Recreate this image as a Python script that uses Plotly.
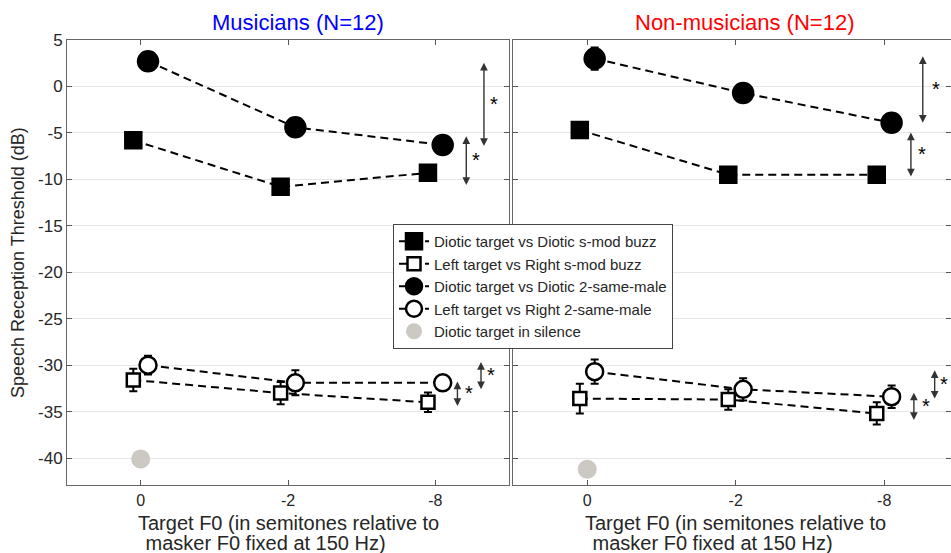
import plotly.graph_objects as go

# ---------------- data ----------------
categories = ["0", "-2", "-8"]
y_ticks = [5, 0, -5, -10, -15, -20, -25, -30, -35, -40]
y_ticklabels = ["5", "0", "-5", "-10", "-15", "-20", "-25", "-30", "-35", "-40"]

mus_diotic_buzz = [-5.8, -10.8, -9.3]
mus_diotic_buzz_err = [0.6, 0.6, 0.6]
mus_lr_buzz = [-31.6, -33.0, -34.0]
mus_lr_buzz_err = [1.2, 1.2, 1.05]
mus_diotic_male = [2.7, -4.4, -6.3]
mus_diotic_male_err = [0.8, 0.8, 0.8]
mus_lr_male = [-30.0, -31.9, -31.9]
mus_lr_male_err = [1.0, 1.35, 0.8]
mus_silence = [-40.1]

non_diotic_buzz = [-4.7, -9.5, -9.5]
non_diotic_buzz_err = [0.6, 0.6, 0.6]
non_lr_buzz = [-33.6, -33.7, -35.2]
non_lr_buzz_err = [1.6, 1.1, 1.2]
non_diotic_male = [3.0, -0.7, -3.9]
non_diotic_male_err = [1.2, 0.8, 0.8]
non_lr_male = [-30.7, -32.6, -33.4]
non_lr_male_err = [1.3, 1.2, 1.2]
non_silence = [-41.2]

# significance arrows: (start value, end value)
mus_sig_top = [[2.7, -6.4], [-5.2, -10.6]]
mus_sig_bottom = [[-31.6, -34.4], [-29.5, -32.6]]
non_sig_top = [[3.4, -3.9], [-4.8, -9.7]]
non_sig_bottom = [[-32.8, -35.9], [-30.4, -33.6]]

legend_names = [
    "Diotic target vs Diotic s-mod buzz",
    "Left target vs Right s-mod buzz",
    "Diotic target vs Diotic 2-same-male",
    "Left target vs Right 2-same-male",
    "Diotic target in silence",
]
panel_titles = ["Musicians (N=12)", "Non-musicians (N=12)"]
x_title_lines = ["Target F0 (in semitones relative to", " masker F0 fixed at 150 Hz)"]
y_title = "Speech Reception Threshold (dB)"

# ---------------- figure ----------------
fig = go.Figure()
base = [1, 2, 3]
off = 0.05
FONT = "Liberation Sans, Arial, sans-serif"
TXT = "#262626"
dash = "8px,5px"

W, H = 951, 553
L, T = 67, 40          # plot-area left / top in page pixels
PW, PH = 884, 445      # plot-area size


def px2paper(px, py):
    return (px - L) / PW, (T + PH - py) / PH


def add_series(xa, ya, vals, errs, side, symbol, filled, size, name, show):
    xs = [b + side * off for b in base]
    fig.add_trace(go.Scatter(
        x=xs, y=vals, xaxis=xa, yaxis=ya, mode="lines+markers",
        name=name, showlegend=show,
        line=dict(color="black", width=2, dash=dash),
        marker=dict(symbol=symbol, size=size, color="black" if filled else "white",
                    line=dict(color="black", width=2.5)),
        error_y=dict(type="data", array=errs, visible=True, color="black",
                     thickness=2, width=4),
    ))


for xa, ya, d, show in [
    ("x", "y", (mus_diotic_buzz, mus_diotic_buzz_err, mus_lr_buzz, mus_lr_buzz_err,
                mus_diotic_male, mus_diotic_male_err, mus_lr_male, mus_lr_male_err, mus_silence), True),
    ("x2", "y2", (non_diotic_buzz, non_diotic_buzz_err, non_lr_buzz, non_lr_buzz_err,
                  non_diotic_male, non_diotic_male_err, non_lr_male, non_lr_male_err, non_silence), False),
]:
    db, dbe, lb, lbe, dm, dme, lm, lme, sil = d
    add_series(xa, ya, db, dbe, -1, "square", True, 16, legend_names[0], show)
    add_series(xa, ya, lb, lbe, -1, "square", False, 13, legend_names[1], show)
    add_series(xa, ya, dm, dme, 1, "circle", True, 20, legend_names[2], show)
    add_series(xa, ya, lm, lme, 1, "circle", False, 17, legend_names[3], show)
    fig.add_trace(go.Scatter(
        x=[1], y=sil, xaxis=xa, yaxis=ya, mode="markers", name=legend_names[4],
        showlegend=show,
        marker=dict(symbol="circle", size=19, color="#ccc9c3", line=dict(width=0)),
    ))


def sig(xref, yref, pair, xpos, star_dx):
    a, b = pair
    fig.add_annotation(x=xpos, y=b, ax=xpos, ay=a, xref=xref, yref=yref,
                       axref=xref, ayref=yref, text="", showarrow=True,
                       arrowhead=2, arrowside="end+start", arrowsize=1.1,
                       arrowwidth=1.4, arrowcolor="#333333")
    fig.add_annotation(x=xpos + star_dx, y=(a + b) / 2, xref=xref, yref=yref,
                       text="*", showarrow=False,
                       font=dict(size=20, color="black", family=FONT))


sig("x", "y", mus_sig_top[0], 3.33, 0.07)
sig("x", "y", mus_sig_top[1], 3.21, 0.065)
sig("x", "y", mus_sig_bottom[0], 3.15, 0.08)
sig("x", "y", mus_sig_bottom[1], 3.31, 0.07)
sig("x2", "y2", non_sig_top[0], 3.26, 0.09)
sig("x2", "y2", non_sig_top[1], 3.18, 0.075)
sig("x2", "y2", non_sig_bottom[0], 3.20, 0.08)
sig("x2", "y2", non_sig_bottom[1], 3.34, 0.065)

axis_common = dict(
    showline=True, linecolor="#666666", linewidth=1, ticks="inside",
    ticklen=5, tickcolor="#555555", tickwidth=1,
    tickfont=dict(family=FONT, size=17, color=TXT),
    zeroline=False, automargin=False,
)
xtick_font = dict(family=FONT, size=16, color=TXT)
fig.update_layout(
    width=W, height=H,
    margin=dict(l=L, r=W - L - PW, t=T, b=H - (T + PH)),
    paper_bgcolor="white", plot_bgcolor="white",
    showlegend=True,
    xaxis=dict(domain=[0, 442 / PW], range=[0.5, 3.5], tickvals=base, ticktext=categories,
               mirror="ticks", showgrid=False, ticklabelstandoff=1,
               **{**axis_common, "tickfont": xtick_font}),
    xaxis2=dict(domain=[446 / PW, 1], range=[0.5, 3.45], tickvals=base, ticktext=categories,
                mirror="ticks", showgrid=False, anchor="y2", ticklabelstandoff=1,
                **{**axis_common, "tickfont": xtick_font}),
    yaxis=dict(range=[-42.9, 5], tickvals=y_ticks, ticktext=y_ticklabels,
               mirror="ticks", showgrid=True, gridcolor="#e6e6e6", gridwidth=1,
               **axis_common),
    yaxis2=dict(range=[-42.9, 5], tickvals=y_ticks,
                showticklabels=False, anchor="x2", mirror="ticks",
                showgrid=True, gridcolor="#e6e6e6", gridwidth=1,
                **axis_common),
    legend=dict(x=px2paper(393, 224)[0], y=px2paper(393, 224)[1],
                xanchor="left", yanchor="top",
                bgcolor="white", bordercolor="#444444", borderwidth=1,
                font=dict(family=FONT, size=15, color=TXT),
                itemsizing="trace"),
)

# panel titles
for txt, px, col in [(panel_titles[0], 298, "#0000ff"), (panel_titles[1], 744, "#ff0000")]:
    xp, yp = px2paper(px, 22)
    fig.add_annotation(text=txt, x=xp, y=yp, xref="paper", yref="paper",
                       showarrow=False, xanchor="center", yanchor="middle",
                       font=dict(family=FONT, size=22, color=col))

# x titles (two lines, left aligned like the reference)
for x0 in (136, 583):
    for line, dx, py in zip(x_title_lines, (0, 2), (523, 543)):
        xp, yp = px2paper(x0 + dx, py)
        fig.add_annotation(text=line.replace(" ", "&nbsp;", 1) if line.startswith(" ") else line,
                           x=xp, y=yp, xref="paper", yref="paper",
                           showarrow=False, xanchor="left", yanchor="middle",
                           font=dict(family=FONT, size=20, color=TXT))

# y title
xp, yp = px2paper(18, 263)
fig.add_annotation(text=y_title, x=xp, y=yp, xref="paper", yref="paper", textangle=-90,
                   showarrow=False, xanchor="center", yanchor="middle",
                   font=dict(family=FONT, size=18, color=TXT))

fig.write_html("out.html", config={"displayModeBar": False},
               post_script="document.body.style.margin='0';document.body.style.overflow='hidden';")
